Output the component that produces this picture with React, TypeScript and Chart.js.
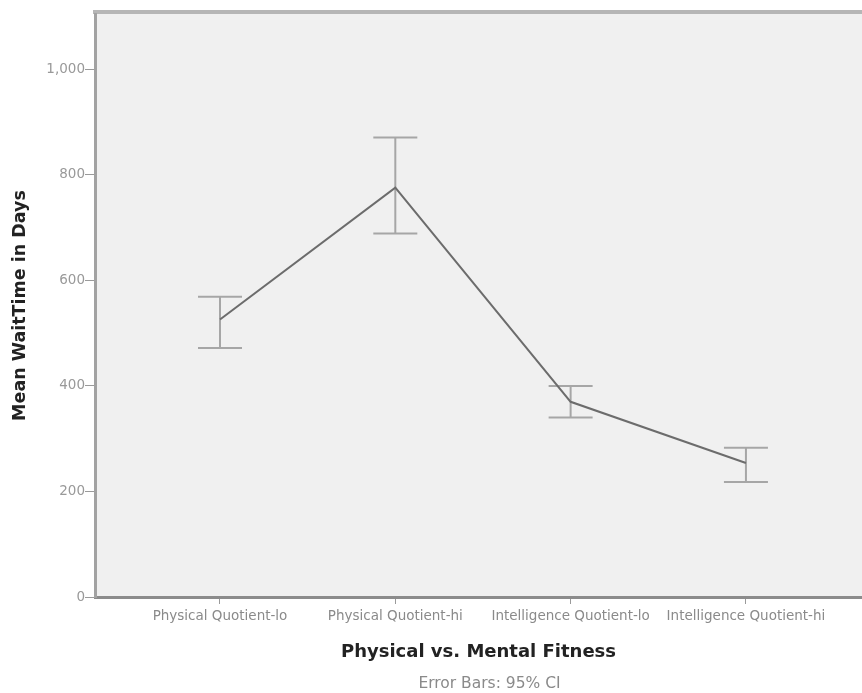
import React, { useEffect, useRef } from "react";
import { Chart, registerables } from "chart.js";

Chart.register(...registerables);

const categories = [
  "Physical Quotient-lo",
  "Physical Quotient-hi",
  "Intelligence Quotient-lo",
  "Intelligence Quotient-hi",
];
const meanWait = [526, 776, 370, 254];
const ciLower = [472, 689, 340, 218];
const ciUpper = [569, 871, 400, 283];
const yTicks = [0, 200, 400, 600, 800, 1000];
const caption = "Error Bars: 95% CI";

const FONT = "'DejaVu Sans', 'Liberation Sans', Arial, sans-serif";

const plotFrame = {
  id: "plotFrame",
  beforeDraw(chart: any) {
    const { ctx, chartArea: a } = chart;
    ctx.save();
    ctx.fillStyle = "#f0f0f0";
    ctx.fillRect(a.left, a.top, a.right - a.left, a.bottom - a.top);
    ctx.strokeStyle = "#b6b6b6";
    ctx.lineWidth = 4;
    ctx.beginPath();
    ctx.moveTo(a.left - 2, a.top - 2);
    ctx.lineTo(a.right, a.top - 2);
    ctx.stroke();
    ctx.restore();
  },
  afterDraw(chart: any) {
    const { ctx, chartArea: a } = chart;
    ctx.save();
    ctx.fillStyle = "#8a8a8a";
    ctx.font = `15.5px ${FONT}`;
    ctx.textAlign = "center";
    ctx.textBaseline = "middle";
    ctx.fillText(caption, (a.left + a.right) / 2 + 11, chart.height - 9);
    ctx.restore();
  },
};

const errorBars = {
  id: "errorBars",
  beforeDatasetsDraw(chart: any) {
    const { ctx } = chart;
    const xs = chart.scales.x;
    const ys = chart.scales.y;
    ctx.save();
    ctx.strokeStyle = "#a6a6a6";
    ctx.lineWidth = 2;
    categories.forEach((_, i) => {
      const px = xs.getPixelForValue(i);
      const top = ys.getPixelForValue(ciUpper[i]);
      const bot = ys.getPixelForValue(ciLower[i]);
      ctx.beginPath();
      ctx.moveTo(px, top);
      ctx.lineTo(px, bot);
      ctx.moveTo(px - 22, top);
      ctx.lineTo(px + 22, top);
      ctx.moveTo(px - 22, bot);
      ctx.lineTo(px + 22, bot);
      ctx.stroke();
    });
    ctx.restore();
  },
};

export default function App() {
  const ref = useRef<HTMLCanvasElement | null>(null);

  useEffect(() => {
    document.body.style.margin = "0";
    const canvas = ref.current!;
    const chart = new Chart(canvas, {
      type: "line",
      data: {
        datasets: [
          {
            data: meanWait.map((v, i) => ({ x: i, y: v })),
            borderColor: "#6c6c6c",
            borderWidth: 2,
            pointRadius: 0,
            fill: false,
            tension: 0,
          },
        ],
      },
      options: {
        animation: false,
        responsive: false,
        devicePixelRatio: 1,
        layout: { padding: { top: 14, left: 0, right: 0, bottom: 0 } },
        plugins: {
          legend: { display: false },
          tooltip: { enabled: false },
          title: { display: false },
        },
        scales: {
          x: {
            type: "linear",
            min: -0.713,
            max: 3.662,
            afterBuildTicks: (s: any) => {
              s.ticks = categories.map((_, i) => ({ value: i }));
            },
            afterFit: (s: any) => {
              s.height = 96;
            },
            ticks: {
              autoSkip: false,
              maxRotation: 0,
              padding: 4,
              color: "#8a8a8a",
              font: { family: FONT, size: 13.5 },
              callback: (v: any) => categories[v] ?? "",
            },
            grid: {
              display: true,
              drawOnChartArea: false,
              drawTicks: true,
              tickLength: 7,
              color: "#9a9a9a",
            },
            border: { display: true, color: "#8c8c8c", width: 3 },
            title: {
              display: true,
              text: "Physical vs. Mental Fitness",
              color: "#222",
              font: { family: FONT, size: 18, weight: "bold" },
              padding: { top: 4, bottom: 30 },
            },
          },
          y: {
            type: "linear",
            min: 0,
            max: 1105,
            afterBuildTicks: (s: any) => {
              s.ticks = yTicks.map((v) => ({ value: v }));
            },
            afterFit: (s: any) => {
              s.width = 95;
            },
            ticks: {
              padding: 0,
              color: "#999",
              font: { family: FONT, size: 13.5 },
              callback: (v: any) => Number(v).toLocaleString("en-US"),
            },
            grid: {
              display: true,
              drawOnChartArea: false,
              drawTicks: true,
              tickLength: 10,
              color: "#9a9a9a",
            },
            border: { display: true, color: "#a2a2a2", width: 3 },
            title: {
              display: true,
              text: "Mean WaitTime in Days",
              color: "#222",
              font: { family: FONT, size: 17.5, weight: "bold" },
              padding: { top: 10, bottom: 0 },
            },
          },
        },
      },
      plugins: [plotFrame, errorBars],
    });
    return () => chart.destroy();
  }, []);

  return (
    <div style={{ position: "absolute", left: 0, top: 0, width: 862, height: 693 }}>
      <canvas ref={ref} width={862} height={693} />
    </div>
  );
}
